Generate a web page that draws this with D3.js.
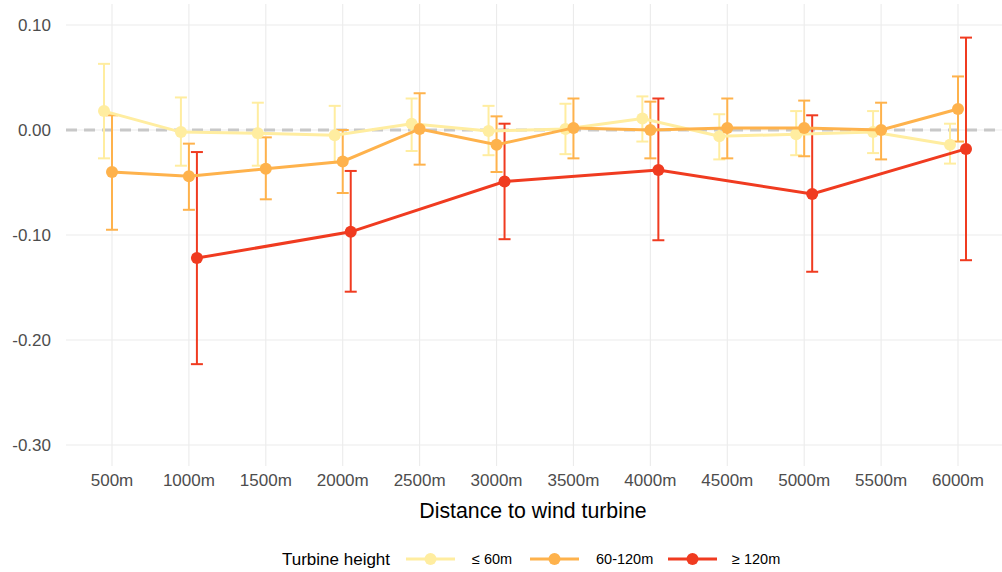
<!DOCTYPE html>
<html>
<head>
<meta charset="utf-8">
<script src="https://cdn.jsdelivr.net/npm/d3@7"></script>
<style>
  body { margin: 0; background: #fff; }
  text { font-family: "Liberation Sans", Arial, sans-serif; }
</style>
</head>
<body>
<div id="chart"></div>
<script>
const distances = ["500m", "1000m", "1500m", "2000m", "2500m", "3000m",
  "3500m", "4000m", "4500m", "5000m", "5500m", "6000m"];
const groups = ["≤ 60m", "60-120m", "≥ 120m"];
const colors = ["#FFEDA0", "#FEB24C", "#F03B20"];
const yTicks = [0.10, 0.00, -0.10, -0.20, -0.30];

// estimate, lower, upper per distance (null = not estimated)
const low = {
  est: [0.018, -0.002, -0.003, -0.005, 0.006, -0.001, 0.001, 0.011, -0.006, -0.004, -0.002, -0.014],
  lo: [-0.027, -0.034, -0.034, -0.031, -0.020, -0.024, -0.023, -0.011, -0.028, -0.024, -0.022, -0.032],
  hi: [0.063, 0.031, 0.026, 0.023, 0.030, 0.023, 0.025, 0.032, 0.015, 0.018, 0.018, 0.006]
};
const mid = {
  est: [-0.040, -0.044, -0.037, -0.030, 0.001, -0.014, 0.002, 0.000, 0.002, 0.002, 0.000, 0.020],
  lo: [-0.095, -0.076, -0.066, -0.060, -0.033, -0.040, -0.027, -0.027, -0.027, -0.025, -0.028, -0.011],
  hi: [0.014, -0.013, -0.007, 0.000, 0.035, 0.013, 0.030, 0.027, 0.030, 0.028, 0.026, 0.051]
};
const high = {
  est: [null, -0.122, null, -0.097, null, -0.049, null, -0.038, null, -0.061, null, -0.018],
  lo: [null, -0.223, null, -0.154, null, -0.104, null, -0.105, null, -0.135, null, -0.124],
  hi: [null, -0.021, null, -0.039, null, 0.006, null, 0.030, null, 0.014, null, 0.088]
};
const series = [low, mid, high];

const width = 1002, height = 572;
const panel = { left: 66, right: 1002, top: 4, bottom: 466 };
const dodge = [-8, 0, 8];

const svg = d3.select("#chart").append("svg")
  .attr("width", width).attr("height", height);

const x = d3.scalePoint().domain(distances).range([112, 958]);
const y = d3.scaleLinear().domain([-0.32, 0.12]).range([panel.bottom, panel.top]);

// grid
svg.append("g").selectAll("line.vgrid")
  .data(distances).join("line")
  .attr("x1", d => x(d)).attr("x2", d => x(d))
  .attr("y1", panel.top).attr("y2", panel.bottom)
  .attr("stroke", "#ebebeb").attr("stroke-width", 1.1);
svg.append("g").selectAll("line.hgrid")
  .data(yTicks).join("line")
  .attr("x1", panel.left).attr("x2", panel.right)
  .attr("y1", d => y(d)).attr("y2", d => y(d))
  .attr("stroke", "#ebebeb").attr("stroke-width", 1.1);

// zero reference
svg.append("line")
  .attr("x1", panel.left).attr("x2", panel.right)
  .attr("y1", y(0)).attr("y2", y(0))
  .attr("stroke", "#c8c8c8").attr("stroke-width", 3)
  .attr("stroke-dasharray", "11 7");

// axes text (plain hyphen for negatives, like the original)
const fmt = v => v.toFixed(2).replace("-0.00", "0.00");
svg.append("g").selectAll("text")
  .data(yTicks).join("text")
  .attr("x", 51).attr("y", d => y(d)).attr("dy", "0.35em")
  .attr("text-anchor", "end").attr("font-size", 17).attr("fill", "#4d4d4d")
  .text(fmt);
svg.append("g").selectAll("text")
  .data(distances).join("text")
  .attr("x", d => x(d)).attr("y", 486)
  .attr("text-anchor", "middle").attr("font-size", 17).attr("fill", "#4d4d4d")
  .text(d => d);
svg.append("text")
  .attr("x", (panel.left + panel.right) / 2 - 1).attr("y", 518)
  .attr("text-anchor", "middle").attr("font-size", 21.3).attr("fill", "#000")
  .text("Distance to wind turbine");

const rows = series.map((s, gi) => distances.map((d, i) => ({
  d, g: gi, est: s.est[i], lo: s.lo[i], hi: s.hi[i]
})).filter(r => r.est !== null));

const px = r => x(r.d) + dodge[r.g];

// error bars
rows.forEach((rs, gi) => {
  const g = svg.append("g").attr("stroke", colors[gi]).attr("stroke-width", 2);
  g.selectAll("line.v").data(rs).join("line")
    .attr("x1", px).attr("x2", px)
    .attr("y1", r => y(r.lo)).attr("y2", r => y(r.hi));
  g.selectAll("line.t").data(rs).join("line")
    .attr("x1", r => px(r) - 6).attr("x2", r => px(r) + 6)
    .attr("y1", r => y(r.hi)).attr("y2", r => y(r.hi));
  g.selectAll("line.b").data(rs).join("line")
    .attr("x1", r => px(r) - 6).attr("x2", r => px(r) + 6)
    .attr("y1", r => y(r.lo)).attr("y2", r => y(r.lo));
});

// lines + points
const line = d3.line().x(px).y(r => y(r.est));
rows.forEach((rs, gi) => {
  svg.append("path").datum(rs)
    .attr("d", line).attr("fill", "none")
    .attr("stroke", colors[gi]).attr("stroke-width", 3);
  svg.append("g").selectAll("circle").data(rs).join("circle")
    .attr("cx", px).attr("cy", r => y(r.est)).attr("r", 6)
    .attr("fill", colors[gi]);
});

// legend
const ly = 559;
svg.append("text").attr("x", 282).attr("y", ly).attr("dy", "0.35em")
  .attr("font-size", 17).attr("fill", "#000").text("Turbine height");
const keyX = [406, 530, 668];
const labX = [472, 596, 732];
groups.forEach((name, i) => {
  svg.append("line")
    .attr("x1", keyX[i]).attr("x2", keyX[i] + 49)
    .attr("y1", ly).attr("y2", ly)
    .attr("stroke", colors[i]).attr("stroke-width", 3);
  svg.append("circle")
    .attr("cx", keyX[i] + 24.5).attr("cy", ly).attr("r", 6)
    .attr("fill", colors[i]);
  svg.append("text").attr("x", labX[i]).attr("y", ly).attr("dy", "0.35em")
    .attr("font-size", 14.5).attr("fill", "#000").text(name);
});
</script>
</body>
</html>
